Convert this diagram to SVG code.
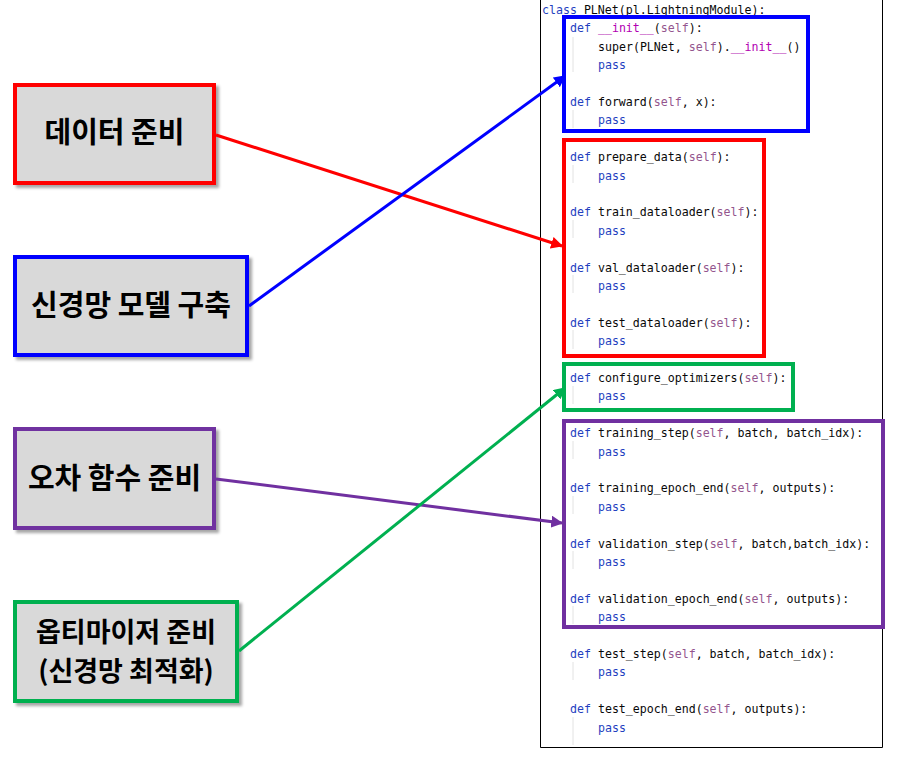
<svg xmlns="http://www.w3.org/2000/svg" width="901" height="758" viewBox="0 0 901 758">
<style>
.code{font-family:"DejaVu Sans Mono","Liberation Mono",monospace;font-size:11.6px;fill:#080808}
.kw{fill:#1f3fbf}
.sf{fill:#94558d}
.mg{fill:#b200b2}
.lbl{font-family:"Noto Sans CJK KR","Noto Sans",sans-serif;font-size:29px;font-weight:bold;fill:#000;text-anchor:middle}
.node{fill:#d9d9d9;stroke-width:4;filter:url(#sh)}
.hl{fill:none;stroke-width:4}
.guide{stroke:#e2e2e2;stroke-width:1}
.conn{stroke-width:3;fill:none}
</style>
<defs>
<filter id="sh" x="-10%" y="-10%" width="130%" height="130%">
<feDropShadow dx="3" dy="3" stdDeviation="1.5" flood-color="#000" flood-opacity="0.35"/>
</filter>
<marker id="aR" viewBox="0 0 10 10" refX="9" refY="5" markerWidth="4" markerHeight="4" orient="auto" markerUnits="strokeWidth"><path d="M0,0L10,5L0,10z" fill="#ff0000"/></marker>
<marker id="aB" viewBox="0 0 10 10" refX="9" refY="5" markerWidth="4" markerHeight="4" orient="auto" markerUnits="strokeWidth"><path d="M0,0L10,5L0,10z" fill="#0000ff"/></marker>
<marker id="aP" viewBox="0 0 10 10" refX="9" refY="5" markerWidth="4" markerHeight="4" orient="auto" markerUnits="strokeWidth"><path d="M0,0L10,5L0,10z" fill="#7030a0"/></marker>
<marker id="aG" viewBox="0 0 10 10" refX="9" refY="5" markerWidth="4" markerHeight="4" orient="auto" markerUnits="strokeWidth"><path d="M0,0L10,5L0,10z" fill="#00b050"/></marker>
</defs>
<rect width="901" height="758" fill="#fff"/>

<g id="code-panel">
<path d="M540.5,0V747.5H882.5V0" fill="none" stroke="#000" stroke-width="1"/>
<g class="guide">
<line x1="573" y1="37" x2="573" y2="72"/>
<line x1="573" y1="110" x2="573" y2="128"/>
<line x1="573" y1="165" x2="573" y2="183"/>
<line x1="573" y1="220" x2="573" y2="238"/>
<line x1="573" y1="275" x2="573" y2="293"/>
<line x1="573" y1="330" x2="573" y2="349"/>
<line x1="573" y1="386" x2="573" y2="404"/>
<line x1="573" y1="441" x2="573" y2="459"/>
<line x1="573" y1="496" x2="573" y2="514"/>
<line x1="573" y1="551" x2="573" y2="569"/>
<line x1="573" y1="606" x2="573" y2="624"/>
<line x1="573" y1="662" x2="573" y2="680"/>
<line x1="573" y1="717" x2="573" y2="745"/>
</g>
<text class="code" x="542" y="14"><tspan class="kw">class</tspan> PLNet(pl.LightningModule):</text>
<text class="code" x="570" y="32.4"><tspan class="kw">def</tspan> <tspan class="mg">__init__</tspan>(<tspan class="sf">self</tspan>):</text>
<text class="code" x="598" y="50.8">super(PLNet, <tspan class="sf">self</tspan>).<tspan class="mg">__init__</tspan>()</text>
<text class="code kw" x="598" y="69.2">pass</text>
<text class="code" x="570" y="106"><tspan class="kw">def</tspan> forward(<tspan class="sf">self</tspan>, x):</text>
<text class="code kw" x="598" y="124.4">pass</text>
<text class="code" x="570" y="161.2"><tspan class="kw">def</tspan> prepare_data(<tspan class="sf">self</tspan>):</text>
<text class="code kw" x="598" y="179.6">pass</text>
<text class="code" x="570" y="216.4"><tspan class="kw">def</tspan> train_dataloader(<tspan class="sf">self</tspan>):</text>
<text class="code kw" x="598" y="234.8">pass</text>
<text class="code" x="570" y="271.6"><tspan class="kw">def</tspan> val_dataloader(<tspan class="sf">self</tspan>):</text>
<text class="code kw" x="598" y="290">pass</text>
<text class="code" x="570" y="326.8"><tspan class="kw">def</tspan> test_dataloader(<tspan class="sf">self</tspan>):</text>
<text class="code kw" x="598" y="345.2">pass</text>
<text class="code" x="570" y="382"><tspan class="kw">def</tspan> configure_optimizers(<tspan class="sf">self</tspan>):</text>
<text class="code kw" x="598" y="400.4">pass</text>
<text class="code" x="570" y="437.2"><tspan class="kw">def</tspan> training_step(<tspan class="sf">self</tspan>, batch, batch_idx):</text>
<text class="code kw" x="598" y="455.6">pass</text>
<text class="code" x="570" y="492.4"><tspan class="kw">def</tspan> training_epoch_end(<tspan class="sf">self</tspan>, outputs):</text>
<text class="code kw" x="598" y="510.8">pass</text>
<text class="code" x="570" y="547.6"><tspan class="kw">def</tspan> validation_step(<tspan class="sf">self</tspan>, batch,batch_idx):</text>
<text class="code kw" x="598" y="566">pass</text>
<text class="code" x="570" y="602.8"><tspan class="kw">def</tspan> validation_epoch_end(<tspan class="sf">self</tspan>, outputs):</text>
<text class="code kw" x="598" y="621.2">pass</text>
<text class="code" x="570" y="658"><tspan class="kw">def</tspan> test_step(<tspan class="sf">self</tspan>, batch, batch_idx):</text>
<text class="code kw" x="598" y="676.4">pass</text>
<text class="code" x="570" y="713.2"><tspan class="kw">def</tspan> test_epoch_end(<tspan class="sf">self</tspan>, outputs):</text>
<text class="code kw" x="598" y="731.6">pass</text>
</g>

<g id="hl-model"><rect class="hl" x="564" y="17" width="244" height="114" stroke="#0000ff"/></g>
<g id="hl-data"><rect class="hl" x="564" y="140" width="200" height="216" stroke="#ff0000"/></g>
<g id="hl-optim"><rect class="hl" x="564" y="364" width="229" height="46" stroke="#00b050"/></g>
<g id="hl-loss"><rect class="hl" x="564" y="421" width="319" height="206" stroke="#7030a0"/></g>

<g id="node-data">
<rect class="node" x="15" y="85" width="199" height="98" stroke="#ff0000"/>
<text class="lbl" x="114.5" y="143">데이터 준비</text>
</g>
<g id="node-model">
<rect class="node" x="15" y="257" width="232" height="98" stroke="#0000ff"/>
<text class="lbl" x="131" y="316">신경망 모델 구축</text>
</g>
<g id="node-loss">
<rect class="node" x="15" y="429" width="199" height="99" stroke="#7030a0"/>
<text class="lbl" x="114.5" y="489">오차 함수 준비</text>
</g>
<g id="node-optim">
<rect class="node" x="15" y="602" width="222" height="99" stroke="#00b050"/>
<text class="lbl" x="126" y="641.5" style="font-size:27px">옵티마이저 준비</text>
<text class="lbl" x="126" y="680.5" style="font-size:27px">(신경망 최적화)</text>
</g>

<g id="connectors">
<line class="conn" x1="216" y1="135" x2="562" y2="246" stroke="#ff0000" marker-end="url(#aR)"/>
<line class="conn" x1="249" y1="306" x2="565" y2="76" stroke="#0000ff" marker-end="url(#aB)"/>
<line class="conn" x1="216" y1="479" x2="562" y2="523" stroke="#7030a0" marker-end="url(#aP)"/>
<line class="conn" x1="239" y1="651" x2="565" y2="388" stroke="#00b050" marker-end="url(#aG)"/>
</g>
</svg>
